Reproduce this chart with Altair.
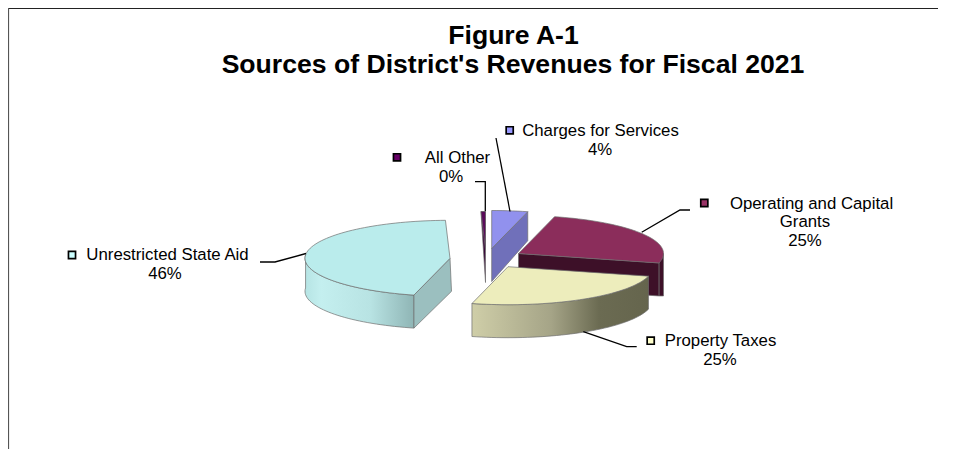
import math
import altair as alt
import pandas as pd

# ---- data
categories = ["Charges for Services", "Operating and Capital Grants", "Property Taxes",
              "Unrestricted State Aid", "All Other"]
shares = [4.0, 25.0, 25.0, 45.5, 0.5]
percent_labels = ["4%", "25%", "25%", "46%", "0%"]

# ---- layout of the exploded pseudo-3D pie (slice angles come from the shares)
W, H = 939, 441
OX, OY = 8, 8
RX, RY, DEPTH = 145, 38, 33
START = 0.0
APEX = {"Charges for Services": (491.7, 248.5), "Operating and Capital Grants": (518.5, 253.5),
        "Property Taxes": (508, 266.7), "Unrestricted State Aid": (450, 258.3),
        "All Other": (485.5, 249.5)}
TOP = {"Charges for Services": "#9191EE", "Operating and Capital Grants": "#8B2D5B",
       "Property Taxes": "#EDEDBC", "Unrestricted State Aid": "#BAECEC", "All Other": "#5A0A5A"}
SIDE = {"Charges for Services": "#7070BA", "Operating and Capital Grants": "#3D1028",
        "Unrestricted State Aid": "#9BBFBF", "All Other": "#3A063A"}
KEY = {"Charges for Services": "#9999FF", "Operating and Capital Grants": "#993366",
       "Property Taxes": "#FFFFCC", "Unrestricted State Aid": "#CCFFFF", "All Other": "#660066"}
ARC_FILL = {
    "Operating and Capital Grants": "#3D1028",
    "Property Taxes": {"gradient": "linear", "x1": 0, "y1": 0, "x2": 1, "y2": 0, "stops": [
        {"offset": 0, "color": "#CFCEA8"}, {"offset": 0.45, "color": "#A5A487"},
        {"offset": 0.72, "color": "#6B6B52"}, {"offset": 1, "color": "#65654D"}]},
    "Unrestricted State Aid": {"gradient": "linear", "x1": 0, "y1": 0, "x2": 1, "y2": 0, "stops": [
        {"offset": 0, "color": "#B6E4E4"}, {"offset": 0.15, "color": "#C4EFEF"},
        {"offset": 0.6, "color": "#B8E3E3"}, {"offset": 1, "color": "#8FB5B5"}]},
}

angles = {}
a = START
for c, s in zip(categories, shares):
    angles[c] = (a, a + s * 3.6)
    a += s * 3.6


def pt(c, th):
    ax, ay = APEX[c]
    return ax + RX * math.sin(math.radians(th)), ay - RY * math.cos(math.radians(th))


def arc(c, a0, a1, dy=0.0):
    n = max(2, int(abs(a1 - a0) / 2) + 1)
    return [(x, y + dy) for x, y in (pt(c, a0 + (a1 - a0) * i / (n - 1)) for i in range(n))]


x_scale = alt.Scale(domain=[0, W], range=[0, W])
y_scale = alt.Scale(domain=[0, H], range=[0, H])


def poly(points, fill, stroke="#6f6f6f", sw=0.7):
    pts = list(points) + [points[0]]
    df = pd.DataFrame({"x": [p[0] - OX for p in pts], "y": [p[1] - OY for p in pts],
                       "i": list(range(len(pts)))})
    return alt.Chart(df).mark_line(fill=fill, stroke=stroke, strokeWidth=sw, interpolate="linear").encode(
        x=alt.X("x:Q", scale=x_scale, axis=None),
        y=alt.Y("y:Q", scale=y_scale, axis=None),
        order="i:Q",
    )


def line(points, color="black", sw=1.3):
    df = pd.DataFrame({"x": [p[0] - OX for p in points], "y": [p[1] - OY for p in points],
                       "i": list(range(len(points)))})
    return alt.Chart(df).mark_line(color=color, strokeWidth=sw).encode(
        x=alt.X("x:Q", scale=x_scale, axis=None),
        y=alt.Y("y:Q", scale=y_scale, axis=None),
        order="i:Q",
    )


def text(s, cx, cy, size=16.8, bold=False):
    df = pd.DataFrame({"t": [s], "x": [cx - OX], "y": [cy - OY]})
    return alt.Chart(df).mark_text(font="Liberation Sans", fontSize=size, fontWeight="bold" if bold else "normal",
                                   color="black", align="center", baseline="middle").encode(
        x=alt.X("x:Q", scale=x_scale, axis=None), y=alt.Y("y:Q", scale=y_scale, axis=None), text="t:N")


def key(c, cx, cy):
    df = pd.DataFrame({"x": [cx - OX], "y": [cy - OY]})
    return alt.Chart(df).mark_point(shape="square", size=50, filled=True, fill=KEY[c], stroke="black",
                                    strokeWidth=1.7, opacity=1).encode(
        x=alt.X("x:Q", scale=x_scale, axis=None), y=alt.Y("y:Q", scale=y_scale, axis=None))


layers = []

# All Other (thin sliver, wraps to the left of the top)
c = "All Other"
a0, a1 = angles[c]
s0, s1 = a0 - 360, a1 - 360
layers.append(poly([(APEX[c][0], APEX[c][1] + DEPTH)] + arc(c, s0, s1), SIDE[c]))
layers.append(poly([APEX[c]] + arc(c, s0, s1), TOP[c]))

# Charges for Services
c = "Charges for Services"
a0, a1 = angles[c]
ap = APEX[c]
e = pt(c, a1)
layers.append(poly([ap, e, (e[0], e[1] + DEPTH - 4), (ap[0], ap[1] + DEPTH)], SIDE[c]))
layers.append(poly([ap] + arc(c, a0, a1), TOP[c]))

# Operating and Capital Grants
c = "Operating and Capital Grants"
a0, a1 = angles[c]
ap = APEX[c]
e = pt(c, a1)
edge = pt(c, 90)
layers.append(poly([edge, (edge[0], e[1] + DEPTH), (e[0], e[1] + DEPTH), e], ARC_FILL[c]))
layers.append(poly([ap, e, (e[0], e[1] + DEPTH), (ap[0], ap[1] + DEPTH)], SIDE[c]))
layers.append(poly([ap] + arc(c, a0, a1), TOP[c]))

# Property Taxes
c = "Property Taxes"
a0, a1 = angles[c]
ap = APEX[c]
wall = arc(c, a0, a1) + arc(c, a1, a0, DEPTH)
layers.append(poly(wall, ARC_FILL[c]))
layers.append(poly([ap] + arc(c, a0, a1), TOP[c]))

# Unrestricted State Aid
c = "Unrestricted State Aid"
a0, a1 = angles[c]
ap = APEX[c]
e = pt(c, a0)
wall = arc(c, a0, 275) + arc(c, 275, a0, DEPTH)
layers.append(poly(wall, ARC_FILL[c]))
layers.append(poly([ap, e, (e[0], e[1] + DEPTH), (ap[0] + 1.5, ap[1] + DEPTH)], SIDE[c]))
layers.append(poly([ap] + arc(c, a0, a1), TOP[c]))

# Leader lines
layers += [
    line([(496, 138), (510, 211.5)]),
    line([(475, 181.7), (485.3, 181.7), (485.3, 211)]),
    line([(690, 210), (680, 210), (641.7, 232.3)]),
    line([(583.3, 331.7), (626.7, 346.7), (636.7, 346.7)]),
    line([(260, 262), (275, 262), (306, 253.5)]),
]

# Frame
layers += [line([(8, 8.5), (938, 8.5)], "#222222", 1.2), line([(8.5, 8), (8.5, 449)], "#555555", 1.2)]

# Keys
layers += [key(categories[0], 509.7, 130.3), key(categories[4], 397, 157.3), key(categories[1], 704.3, 203),
           key(categories[2], 650.7, 340.7), key(categories[3], 72, 255)]

# Labels
layers += [
    text("Charges for Services", 600.5, 131), text(percent_labels[0], 600, 150),
    text("All Other", 457.5, 158), text(percent_labels[4], 451, 177),
    text("Operating and Capital", 811.5, 204), text("Grants", 805, 222), text(percent_labels[1], 805, 241),
    text("Property Taxes", 720.5, 341), text(percent_labels[2], 720, 360),
    text("Unrestricted State Aid", 167.5, 255), text(percent_labels[3], 165, 274),
    text("Figure A-1", 513.5, 36, 26.6, True),
    text("Sources of District's Revenues for Fiscal 2021", 513, 65, 26.6, True),
]

chart = alt.layer(*layers).properties(
    width=W, height=H, padding=0, background="white", autosize=alt.AutoSizeParams(type="none")
).configure_view(stroke=None)

chart.save("out.html", embed_options={"renderer": "svg", "actions": False})
